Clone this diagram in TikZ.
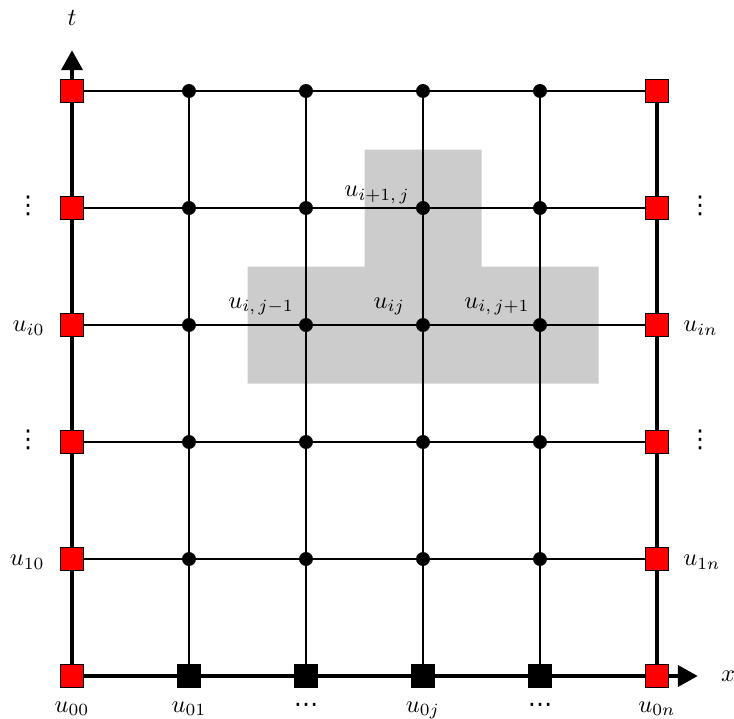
\documentclass[tikz,border=0pt]{standalone}
\usepackage{fontspec}
\newfontfamily\dejavu{DejaVu Sans}
\usetikzlibrary{arrows.meta,calc}
\newcommand{\myvd}{{\dejavu\fontsize{10pt}{12pt}\selectfont ⋮}}
\newcommand{\myhd}{{\dejavu\fontsize{10pt}{12pt}\selectfont ⋯}}
\begin{document}
\begin{tikzpicture}[x=1.68cm,y=1.68cm,
  thinline/.style={line width=0.7pt},
  axisline/.style={line width=2pt},
  axisarrow/.style={axisline,-{Triangle[length=8.2pt,width=8.4pt]}},
  bnd/.style={rectangle,draw=black,fill=red,line width=0.5pt,minimum size=9.4pt,inner sep=0pt},
  bsq/.style={rectangle,fill=black,minimum size=9.8pt,inner sep=0pt},
  dotn/.style={circle,fill=black,minimum size=5.7pt,inner sep=0pt},
  lbl/.style={inner sep=0pt},
  shade/.style={fill=black!20,draw=none}]
\useasboundingbox (-0.6154,-0.359) rectangle (5.6581,5.7778);
% stencil region
\fill[shade] (1.5,2.5) -- (4.5,2.5) -- (4.5,3.5) -- (3.5,3.5) -- (3.5,4.5) -- (2.5,4.5) -- (2.5,3.5) -- (1.5,3.5) -- cycle;
% grid coordinates
\foreach \i in {0,...,5}{\foreach \j in {0,...,5}{\coordinate (c\i\j) at (\i,\j);}}
\coordinate (xtip) at (5.35,0);
\coordinate (ttip) at (0,5.35);
% thin grid lines
\foreach \j in {1,...,5}{\draw[thinline] (c0\j) -- (c5\j);}
\foreach \i in {1,...,4}{\draw[thinline] (c\i0) -- (c\i5);}
% thick boundary and axes
\draw[axisline] (c50) -- (c55);
\draw[axisarrow] (c00) -- (xtip);
\draw[axisarrow] (c00) -- (ttip);
% interior dots
\foreach \i in {1,...,4}{\foreach \j in {1,...,5}{\node[dotn] (n\i\j) at (c\i\j) {};}}
% bottom black squares
\foreach \i in {1,...,4}{\node[bsq] (n\i0) at (c\i0) {};}
% red boundary squares
\foreach \j in {0,...,5}{\node[bnd] (n0\j) at (c0\j) {}; \node[bnd] (n5\j) at (c5\j) {};}
% axis labels
\node[lbl] (tl) at (0,5.628) {$t$};
\node[lbl] (xl) at (5.607,0) {$x$};
% bottom labels
\node[lbl,anchor=base] (b0) at (0,-0.308) {$u_{00}$};
\node[lbl,anchor=base] (b1) at (1,-0.308) {$u_{01}$};
\node[lbl,anchor=base] (b2) at (2,-0.308) {\myhd};
\node[lbl,anchor=base] (b3) at (3,-0.308) {$u_{0j}$};
\node[lbl,anchor=base] (b4) at (4,-0.308) {\myhd};
\node[lbl,anchor=base] (b5) at (5,-0.308) {$u_{0n}$};
% left labels
\node[lbl,anchor=east] (l1) at (-0.23,0.97) {$u_{10}$};
\node[lbl] (l2) at (-0.376,2.02) {\myvd};
\node[lbl,anchor=east] (l3) at (-0.23,2.97) {$u_{i0}$};
\node[lbl] (l4) at (-0.376,4.02) {\myvd};
% right labels
\node[lbl,anchor=west] (r1) at (5.222,0.97) {$u_{1n}$};
\node[lbl] (r2) at (5.368,2.02) {\myvd};
\node[lbl,anchor=west] (r3) at (5.222,2.97) {$u_{in}$};
\node[lbl] (r4) at (5.368,4.02) {\myvd};
% stencil labels
\node[lbl,anchor=south east] (s1) at ($(c23)+(-0.1,0.08)$) {$u_{i,\,j-1}$};
\node[lbl,anchor=south east] (s2) at ($(c33)+(-0.15,0.08)$) {$u_{ij}$};
\node[lbl,anchor=south east] (s3) at ($(c43)+(-0.085,0.08)$) {$u_{i,\,j+1}$};
\node[lbl,anchor=south east] (s4) at ($(c34)+(-0.11,0.035)$) {$u_{i+1,\,j}$};
\end{tikzpicture}
\end{document}
